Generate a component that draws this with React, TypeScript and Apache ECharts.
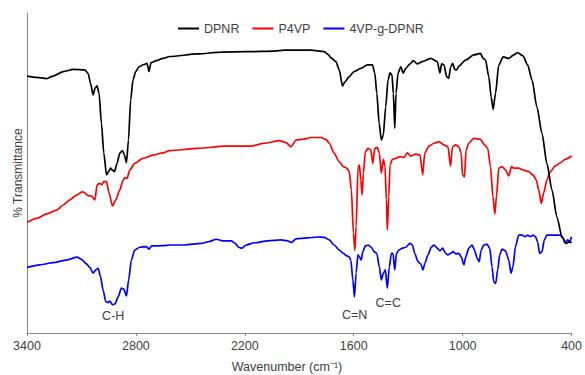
import React, { useEffect, useRef } from "react";
import * as echarts from "echarts";

const seriesNames = ["DPNR", "P4VP", "4VP-g-DPNR"];
const xTicks = [3400, 2800, 2200, 1600, 1000, 400];

// [wavenumber (cm-1), transmittance (arbitrary, offset)]
const dpnr: number[][] = [
  [3400, 80.3], [3347, 79.9], [3292, 79.5], [3255, 80.3], [3200, 81.7], [3145, 82.4], [3081, 82.2], [3063, 81.1],
  [3050, 78.0], [3036, 74.4], [3025, 76.5], [3014, 77.2], [3003, 74.9], [2990, 65.5], [2977, 56.2], [2962, 49.4],
  [2951, 50.4], [2940, 51.5], [2929, 50.9], [2918, 50.4], [2904, 53.0], [2889, 56.2], [2874, 57.0], [2863, 55.6],
  [2852, 53.2], [2841, 60.3], [2829, 72.8], [2816, 79.1], [2801, 81.7], [2783, 83.2], [2757, 83.9], [2739, 84.3],
  [2728, 81.7], [2717, 84.5], [2688, 85.1], [2651, 85.8], [2614, 86.4], [2460, 87.2], [2330, 87.8], [2186, 87.9],
  [2037, 88.1], [1982, 88.4], [1836, 88.4], [1763, 87.9], [1740, 87.0], [1726, 86.0], [1698, 84.8], [1680, 82.2],
  [1662, 77.2], [1649, 78.5], [1625, 80.1], [1598, 81.7], [1561, 82.7], [1525, 83.8], [1497, 83.8], [1484, 81.2],
  [1473, 74.9], [1460, 65.5], [1448, 60.3], [1437, 61.9], [1424, 70.7], [1411, 79.1], [1400, 81.3], [1389, 80.6],
  [1382, 74.9], [1374, 64.0], [1367, 74.9], [1356, 81.2], [1341, 83.2], [1327, 81.2], [1314, 82.7], [1290, 84.1],
  [1272, 85.1], [1250, 84.1], [1223, 84.8], [1176, 85.8], [1140, 84.8], [1125, 81.3], [1116, 84.1], [1103, 83.8],
  [1088, 80.1], [1077, 79.6], [1066, 83.2], [1055, 84.3], [1044, 82.4], [1033, 82.2], [1021, 83.4], [984, 85.3],
  [938, 86.9], [902, 87.4], [887, 85.8], [874, 85.3], [856, 80.1], [843, 73.8], [832, 69.9], [819, 74.9],
  [801, 83.8], [777, 86.3], [746, 85.8], [719, 86.9], [697, 87.6], [668, 86.6], [642, 83.8], [618, 79.1],
  [591, 70.7], [563, 62.4], [536, 53.0], [508, 44.7], [481, 36.3], [453, 30.1], [429, 28.0], [411, 28.5], [400, 28.2],
];

const p4vp: number[][] = [
  [3400, 34.5], [3347, 35.8], [3292, 37.2], [3237, 38.4], [3201, 40.0], [3164, 41.6], [3127, 43.1], [3094, 44.2],
  [3081, 43.7], [3063, 42.9], [3045, 42.8], [3026, 41.6], [3014, 46.3], [2999, 46.8], [2988, 46.3], [2977, 47.3],
  [2962, 47.3], [2948, 43.7], [2929, 39.7], [2911, 41.6], [2889, 44.7], [2871, 47.8], [2860, 48.6], [2849, 48.3],
  [2834, 50.9], [2807, 53.0], [2761, 54.6], [2706, 55.6], [2651, 56.3], [2614, 57.0], [2459, 57.7], [2312, 58.4],
  [2165, 58.4], [2092, 59.3], [2010, 60.1], [1973, 59.5], [1946, 58.2], [1918, 60.3], [1873, 60.6], [1836, 61.1],
  [1781, 61.1], [1753, 60.5], [1735, 59.3], [1708, 56.2], [1680, 53.5], [1657, 52.0], [1638, 51.5], [1625, 50.4],
  [1613, 44.7], [1602, 31.2], [1594, 25.9], [1587, 33.2], [1576, 52.0], [1569, 52.5], [1561, 47.8], [1554, 43.1],
  [1547, 49.9], [1536, 56.7], [1521, 57.7], [1506, 57.2], [1495, 53.0], [1484, 57.7], [1470, 58.0], [1459, 56.2],
  [1448, 49.9], [1437, 54.3], [1428, 52.0], [1420, 41.6], [1415, 32.2], [1407, 42.6], [1400, 52.5], [1387, 54.3],
  [1369, 54.6], [1345, 55.1], [1323, 54.9], [1305, 56.3], [1286, 55.3], [1259, 55.9], [1235, 55.6], [1220, 49.4],
  [1209, 56.2], [1186, 58.4], [1158, 59.3], [1131, 59.8], [1103, 58.8], [1081, 58.2], [1067, 52.2], [1056, 58.2],
  [1039, 58.8], [1021, 58.2], [1008, 56.2], [1001, 49.4], [990, 48.8], [981, 57.2], [966, 59.3], [939, 60.8],
  [902, 60.5], [880, 58.8], [862, 57.7], [847, 52.0], [833, 42.6], [823, 37.2], [814, 42.6], [801, 51.5],
  [783, 52.0], [764, 50.9], [746, 49.1], [731, 52.0], [719, 51.5], [691, 51.5], [664, 50.9], [636, 50.4],
  [613, 49.4], [594, 47.8], [581, 44.7], [567, 40.5], [554, 43.7], [536, 47.8], [517, 50.4], [490, 52.2],
  [462, 53.2], [435, 54.3], [400, 55.3],
];

const graft: number[][] = [
  [3400, 20.5], [3329, 21.3], [3256, 22.0], [3182, 22.8], [3124, 23.7], [3100, 23.0], [3072, 21.6], [3054, 20.5],
  [3036, 18.7], [3021, 19.7], [3008, 20.2], [2995, 17.6], [2981, 13.4], [2966, 9.8], [2953, 9.5], [2944, 10.0],
  [2929, 8.8], [2915, 9.1], [2898, 11.3], [2880, 14.0], [2867, 13.7], [2852, 11.6], [2840, 16.6], [2825, 22.8],
  [2807, 25.9], [2779, 26.8], [2742, 27.0], [2728, 26.2], [2713, 27.2], [2651, 27.3], [2614, 27.5], [2532, 27.5],
  [2440, 28.0], [2395, 28.6], [2358, 29.3], [2321, 28.8], [2275, 28.8], [2253, 28.0], [2235, 26.8], [2217, 26.5],
  [2193, 27.5], [2147, 28.2], [2074, 28.8], [2001, 29.1], [1964, 28.8], [1942, 28.3], [1918, 29.4], [1854, 29.7],
  [1799, 30.0], [1763, 29.9], [1735, 29.1], [1708, 27.5], [1680, 25.9], [1657, 24.9], [1638, 24.1], [1625, 23.8],
  [1616, 22.8], [1605, 16.6], [1596, 11.3], [1587, 18.7], [1577, 24.4], [1569, 23.8], [1559, 22.8], [1550, 25.4],
  [1536, 27.2], [1521, 27.5], [1503, 26.8], [1488, 25.4], [1473, 24.9], [1459, 20.7], [1448, 16.6], [1437, 18.7],
  [1426, 19.7], [1415, 14.0], [1404, 20.7], [1393, 24.9], [1384, 24.9], [1374, 19.7], [1365, 24.9], [1351, 25.9],
  [1332, 26.5], [1314, 26.8], [1290, 28.0], [1277, 27.5], [1264, 24.9], [1246, 22.3], [1231, 21.6], [1219, 19.7],
  [1208, 21.8], [1191, 24.4], [1173, 26.8], [1158, 27.5], [1140, 26.5], [1125, 25.7], [1110, 26.5], [1094, 24.9],
  [1081, 24.4], [1067, 24.9], [1052, 25.4], [1039, 24.7], [1021, 24.9], [1008, 23.8], [993, 21.3], [983, 23.8],
  [966, 26.5], [948, 27.5], [935, 25.9], [920, 23.3], [909, 22.3], [898, 25.9], [884, 27.5], [866, 27.8],
  [851, 26.5], [838, 20.7], [829, 16.0], [818, 15.5], [807, 19.7], [796, 24.4], [783, 26.2], [764, 25.7],
  [746, 22.8], [734, 18.7], [723, 20.7], [709, 27.0], [691, 30.6], [673, 30.6], [655, 30.1], [642, 30.6],
  [627, 30.1], [613, 30.6], [599, 30.1], [587, 28.5], [576, 24.9], [563, 25.4], [550, 29.1], [536, 30.6],
  [499, 30.6], [462, 30.6], [448, 29.6], [435, 28.0], [422, 29.1], [411, 28.5], [400, 30.1],
];

const bandLabels: { text: string; wn: number; y: number }[] = [
  { text: "C-H", wn: 2925, y: 5.3 },
  { text: "C=N", wn: 1595, y: 5.6 },
  { text: "C=C", wn: 1410, y: 9.4 },
];

const colors = ["#000000", "#ff0000", "#0000ff"];
const FONT = "'Liberation Sans', Arial, Helvetica, sans-serif";
const TEXT_COLOR = "#404040";

export default function App() {
  const ref = useRef<HTMLDivElement>(null);

  useEffect(() => {
    document.body.style.margin = "0";
    if (!ref.current) return;
    const chart = echarts.init(ref.current, undefined, { renderer: "svg" });
    const datasets = [dpnr, p4vp, graft];
    const baseGraphics = [
      {
        type: "text",
        x: 18,
        y: 173,
        rotation: Math.PI / 2,
        style: {
          text: "% Transmittance",
          align: "center",
          verticalAlign: "middle",
          fontSize: 12,
          fill: TEXT_COLOR,
          fontFamily: FONT,
        },
      },
      {
        type: "text",
        x: 287,
        y: 367,
        style: {
          text: "Wavenumber (cm⁻¹)",
          align: "center",
          verticalAlign: "middle",
          fontSize: 12.5,
          fill: TEXT_COLOR,
          fontFamily: FONT,
        },
      },
    ];
    chart.setOption({
      animation: false,
      backgroundColor: "#ffffff",
      textStyle: { fontFamily: FONT },
      grid: { left: 27, right: 12, top: 13, bottom: 42, containLabel: false },
      legend: {
        data: seriesNames,
        left: 173,
        top: 17,
        icon: "rect",
        itemWidth: 21,
        itemHeight: 2,
        itemGap: 13,
        textStyle: { fontSize: 12.5, color: TEXT_COLOR, fontFamily: FONT },
      },
      xAxis: {
        type: "value",
        inverse: true,
        min: 400,
        max: 3400,
        interval: 600,
        axisLine: { show: true, lineStyle: { color: "#868686", width: 1 } },
        axisTick: { show: true, length: 3, lineStyle: { color: "#868686" } },
        axisLabel: {
          fontSize: 12.5,
          color: TEXT_COLOR,
          margin: 6,
          fontFamily: FONT,
          formatter: (v: number) => (xTicks.includes(v) ? String(v) : ""),
        },
        splitLine: { show: false },
      },
      yAxis: {
        type: "value",
        min: 0,
        max: 100,
        axisLine: { show: true, lineStyle: { color: "#868686", width: 1 } },
        axisTick: { show: false },
        axisLabel: { show: false },
        splitLine: { show: false },
      },
      series: datasets.map((d, i) => ({
        name: seriesNames[i],
        type: "line",
        data: d,
        showSymbol: false,
        symbol: "none",
        smooth: 0.25,
        smoothMonotone: "x",
        lineStyle: { color: colors[i], width: 1.7 },
        itemStyle: { color: colors[i] },
        z: 3 - i,
      })),
      graphic: baseGraphics,
    });

    // band annotation labels placed via the chart's own scales
    const labelGraphics = bandLabels.map((b) => {
      const [px, py] = chart.convertToPixel({ gridIndex: 0 }, [b.wn, b.y]) as number[];
      return {
        type: "text",
        x: px,
        y: py,
        style: {
          text: b.text,
          align: "center",
          verticalAlign: "middle",
          fontSize: 12.5,
          fill: TEXT_COLOR,
          fontFamily: FONT,
        },
      };
    });
    chart.setOption({ graphic: [...baseGraphics, ...labelGraphics] });

    return () => chart.dispose();
  }, []);

  return <div ref={ref} style={{ width: 585, height: 375 }} />;
}
